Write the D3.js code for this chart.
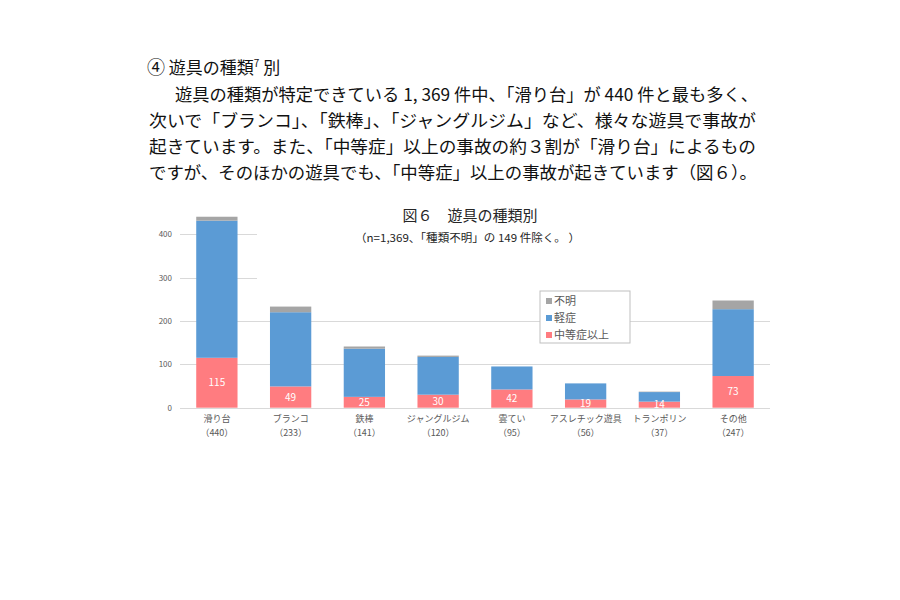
<!DOCTYPE html>
<html lang="ja">
<head>
<meta charset="UTF-8">
<title>遊具の種類別</title>
<style>
  body { margin: 0; background: #fff; }
  svg { display: block; font-family: "Noto Sans CJK JP", sans-serif; }
  .body-text { font-size: 17px; fill: #111; }
  .grid line { stroke: #d9d9d9; stroke-width: 1px; }
  .tick-label { font-size: 8px; fill: #595959; }
  .cat-label { font-size: 9px; fill: #595959; }
  .seg-label { font-size: 10px; fill: #fff; }
  .legend text { font-size: 11px; fill: #595959; }
</style>
</head>
<body>
<svg width="900" height="600"></svg>
<script src="https://d3js.org/d3.v7.min.js"></script>
<script>
// data
const categories = ["滑り台", "ブランコ", "鉄棒", "ジャングルジム", "雲てい", "アスレチック遊具", "トランポリン", "その他"];
const totals     = [440, 233, 141, 120, 95, 56, 37, 247];
const moderate   = [115, 49, 25, 30, 42, 19, 14, 73];   // 中等症以上
const mild       = [316, 171, 111, 87, 53, 37, 22, 154]; // 軽症
const unknown    = [9, 13, 5, 3, 0, 0, 1, 20];          // 不明
const yTicks     = [0, 100, 200, 300, 400];

const seriesNames = ["中等症以上", "軽症", "不明"];
const colors = { "中等症以上": "#ff7c80", "軽症": "#5b9bd5", "不明": "#a5a5a5" };

const paragraph = [
  "遊具の種類が特定できている 1, 369 件中、「滑り台」が 440 件と最も多く、",
  "次いで「ブランコ」、「鉄棒」、「ジャングルジム」など、様々な遊具で事故が",
  "起きています。また、「中等症」以上の事故の約３割が「滑り台」によるもの",
  "ですが、そのほかの遊具でも、「中等症」以上の事故が起きています（図６）。"
];

const svg = d3.select("svg");

// heading + paragraph
const head = svg.append("text").attr("class", "body-text").attr("x", 147).attr("y", 74);
head.append("tspan").attr("font-size", 18).text("④");
head.append("tspan").text(" 遊具の種類");
head.append("tspan").attr("font-size", 10).attr("dy", -7).text("7");
head.append("tspan").attr("dy", 7).text(" 別");

const lineX = [175, 149, 149, 149];
const lineEnd = [758, 756, 756, 757];
paragraph.forEach((t, i) => {
  svg.append("text").attr("class", "body-text")
    .attr("x", lineX[i]).attr("y", 101 + i * 26)
    .attr("textLength", lineEnd[i] - lineX[i])
    .attr("lengthAdjust", "spacingAndGlyphs")
    .text(t);
});

// scales
const x = d3.scaleBand().domain(categories).range([180, 770])
  .paddingInner(0.44).paddingOuter(0.22);
const y = d3.scaleLinear().domain([0, 450]).range([407.7, 212.4]);

// gridlines
const grid = svg.append("g").attr("class", "grid");
grid.selectAll("line").data(yTicks).join("line")
  .attr("x1", 180).attr("x2", 770)
  .attr("y1", d => Math.round(y(d)) + 0.5).attr("y2", d => Math.round(y(d)) + 0.5);

svg.append("g").selectAll("text").data(yTicks).join("text")
  .attr("class", "tick-label")
  .attr("x", 172).attr("y", d => y(d) + 3)
  .attr("text-anchor", "end")
  .text(d => d);

// white title box sits over the upper gridlines
svg.append("rect").attr("x", 257).attr("y", 200).attr("width", 520).attr("height", 85).attr("fill", "#fff");

// chart title
svg.append("text").attr("x", 470).attr("y", 221).attr("text-anchor", "middle")
  .attr("font-size", 15).attr("fill", "#262626")
  .text("図６　遊具の種類別");
svg.append("text").attr("x", 355).attr("y", 242)
  .attr("font-size", 11).attr("fill", "#262626")
  .attr("textLength", 225).attr("lengthAdjust", "spacingAndGlyphs")
  .text("（n=1,369、「種類不明」の 149 件除く。 ）");

// stacked bars
const rows = categories.map((c, i) => ({
  cat: c, "中等症以上": moderate[i], "軽症": mild[i], "不明": unknown[i]
}));
const stacked = d3.stack().keys(seriesNames)(rows);

svg.append("g").selectAll("g").data(stacked).join("g")
  .attr("fill", d => colors[d.key])
  .selectAll("rect").data(d => d).join("rect")
  .attr("x", d => x(d.data.cat))
  .attr("width", x.bandwidth())
  .attr("y", d => y(d[1]))
  .attr("height", d => y(d[0]) - y(d[1]));

// labels inside the red segments
svg.append("g").selectAll("text").data(stacked[0]).join("text")
  .attr("class", "seg-label")
  .attr("x", d => x(d.data.cat) + x.bandwidth() / 2)
  .attr("y", d => (y(d[0]) + y(d[1])) / 2 + 3.5)
  .attr("text-anchor", "middle")
  .text(d => d.data["中等症以上"]);

// category labels
const cat = svg.append("g").selectAll("g").data(categories).join("g")
  .attr("transform", d => `translate(${x(d) + x.bandwidth() / 2},0)`);
cat.append("text").attr("class", "cat-label").attr("y", 422).attr("text-anchor", "middle").text(d => d);
cat.append("text").attr("class", "cat-label").attr("y", 436).attr("text-anchor", "middle")
  .text((d, i) => `（${totals[i]}）`);

// legend
const legend = svg.append("g").attr("class", "legend").attr("transform", "translate(540,291)");
legend.append("rect").attr("width", 90).attr("height", 52)
  .attr("fill", "#fff").attr("stroke", "#bfbfbf");
const li = legend.selectAll("g").data(seriesNames.slice().reverse()).join("g")
  .attr("transform", (d, i) => `translate(6,${10 + i * 17})`);
li.append("rect").attr("y", -3).attr("width", 6).attr("height", 6).attr("fill", d => colors[d]);
li.append("text").attr("x", 8).attr("y", 4).text(d => d);
</script>
</body>
</html>
